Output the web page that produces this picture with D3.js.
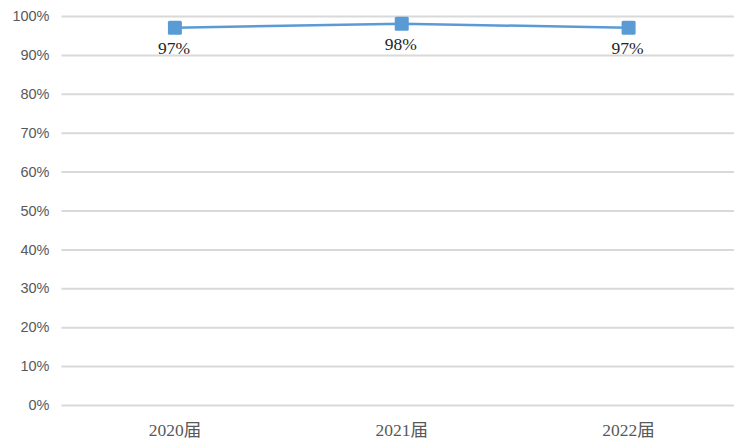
<!DOCTYPE html>
<html>
<head>
<meta charset="utf-8">
<script src="https://cdn.jsdelivr.net/npm/d3@7/dist/d3.min.js"></script>
<style>
  html, body { margin: 0; padding: 0; background: #fff; }
  svg { display: block; }
</style>
</head>
<body>
<div id="chart"></div>
<script>
// Graduate rate by cohort
const categories = ["2020届", "2021届", "2022届"];
const values = [0.97, 0.98, 0.97];
const dataLabels = ["97%", "98%", "97%"];
const yTicks = [0, 0.1, 0.2, 0.3, 0.4, 0.5, 0.6, 0.7, 0.8, 0.9, 1.0];

const width = 734, height = 441;
const margin = { top: 16, right: -8, bottom: 36, left: 61.5 };

const svg = d3.select("#chart").append("svg")
  .attr("width", width).attr("height", height);

const x = d3.scaleBand()
  .domain(categories)
  .range([margin.left, width - margin.right]);

const y = d3.scaleLinear()
  .domain([0, 1])
  .range([height - margin.bottom, margin.top]);

// horizontal gridlines and y labels
const yAxis = d3.axisLeft(y)
  .tickValues(yTicks)
  .tickFormat(d3.format(".0%"))
  .tickSize(-(width - margin.left))
  .tickPadding(12);

const gy = svg.append("g")
  .attr("transform", `translate(${margin.left},0)`)
  .call(yAxis);
gy.select(".domain").remove();
gy.selectAll(".tick line")
  .attr("stroke", "#d9d9d9")
  .attr("stroke-width", 2);
gy.selectAll(".tick text")
  .attr("fill", "#595959")
  .attr("font-family", "'Liberation Sans', 'DejaVu Sans', sans-serif")
  .attr("font-size", 14.5);

// category labels
const xAxis = d3.axisBottom(x).tickSize(0).tickPadding(19);
const gx = svg.append("g")
  .attr("transform", `translate(0,${y(0)})`)
  .call(xAxis);
gx.select(".domain").remove();
gx.selectAll(".tick text")
  .attr("fill", "#595959")
  .attr("font-family", "'Liberation Serif', 'Noto Sans CJK SC', serif")
  .attr("font-size", 17.5);

const cx = d => x(d) + x.bandwidth() / 2;
const pts = categories.map((c, i) => ({ c, v: values[i], label: dataLabels[i] }));

// series line
svg.append("path")
  .datum(pts)
  .attr("fill", "none")
  .attr("stroke", "#5b9bd5")
  .attr("stroke-width", 2.5)
  .attr("d", d3.line().x(d => cx(d.c)).y(d => y(d.v)));

// square markers
const ms = 14;
svg.append("g").selectAll("rect")
  .data(pts)
  .join("rect")
  .attr("x", d => cx(d.c) - ms / 2)
  .attr("y", d => y(d.v) - ms / 2)
  .attr("width", ms)
  .attr("height", ms)
  .attr("rx", 1.5)
  .attr("fill", "#5b9bd5");

// value labels
svg.append("g").selectAll("text")
  .data(pts)
  .join("text")
  .attr("x", d => cx(d.c) - 1)
  .attr("y", d => y(d.v) + 26)
  .attr("text-anchor", "middle")
  .attr("fill", "#262626")
  .attr("font-family", "'Liberation Serif', serif")
  .attr("font-size", 17.5)
  .text(d => d.label);
</script>
</body>
</html>
